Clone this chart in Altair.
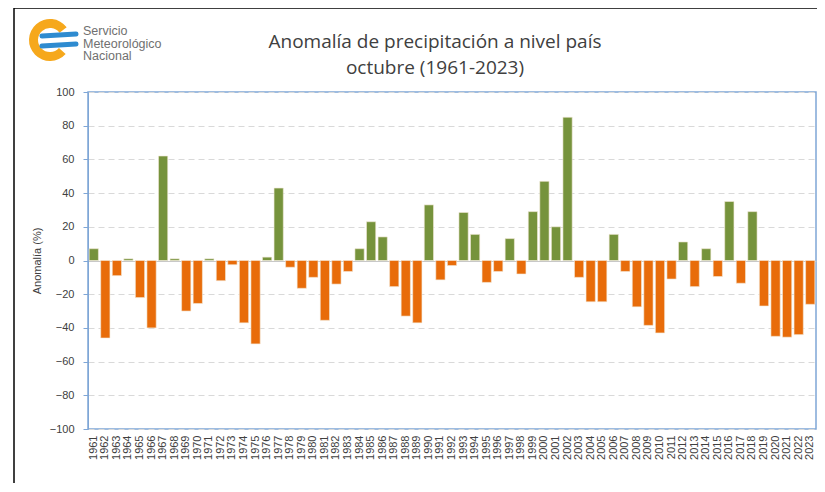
import altair as alt
import pandas as pd

years = list(range(1961, 2024))
anomalies = [
    7, -46, -9, 1, -22, -40, 62, 1, -30, -25.5,
    1, -12, -2.5, -37, -49.5, 2, 43, -4, -16.5, -10,
    -35.5, -14, -6.5, 7, 23, 14, -15.5, -33, -37, 33,
    -11.5, -3, 28.5, 15.5, -13, -6.5, 13, -8, 29, 47,
    20, 85, -10, -24.5, -24.5, 15.5, -6.5, -27.5, -38.5, -43,
    -11, 11, -15.5, 7, -9.5, 35, -13.5, 29, -27, -45,
    -45.5, -44, -26,
]
y_ticks = list(range(-100, 101, 20))
title_lines = ["Anomalía de precipitación a nivel país", "octubre (1961-2023)"]
logo_lines = ["Servicio", "Meteorológico", "Nacional"]

df = pd.DataFrame({
    "year": [str(y) for y in years],
    "anom": anomalies,
})
df["sign"] = ["pos" if v >= 0 else "neg" for v in df["anom"]]

BLUE = "#7fa6d6"
TXT = "#404040"
FONT = "Liberation Sans"

bars = alt.Chart(df).mark_bar(stroke="#f3e9d8", strokeWidth=0.6).encode(
    x=alt.X("year:O", title=None, scale=alt.Scale(paddingInner=0.2, paddingOuter=0.1),
            axis=alt.Axis(labelAngle=270, labelFontSize=11, labelFont=FONT, labelColor=TXT,
                          labelOverlap=False, ticks=False, domain=False, labelPadding=6,
                          labelBaseline="middle")),
    y=alt.Y("anom:Q", title="Anomalía (%)",
            scale=alt.Scale(domain=[-100, 100], nice=False),
            axis=alt.Axis(values=y_ticks, labelFontSize=11, labelFont=FONT, labelColor=TXT,
                          labelOverlap=False,
                          titleFontSize=11, titleFont=FONT, titleColor=TXT, titleFontWeight="normal",
                          titlePadding=7, tickSize=5, tickColor=BLUE, domainColor=BLUE,
                          labelPadding=9, grid=True,
                          gridColor={"condition": {"test": "datum.value === 0", "value": "#c8c8c8"},
                                     "value": "#d9d9d9"},
                          gridDash={"condition": {"test": "datum.value === 0", "value": []},
                                    "value": [6, 4]})),
    color=alt.Color("sign:N", scale=alt.Scale(domain=["pos", "neg"], range=["#76933c", "#e86c0a"]),
                    legend=None),
)

one = pd.DataFrame({"a": [0]})

# logo
logo_ring = alt.Chart(one).mark_arc(color="#f6a81c").encode(
    x=alt.value(-38), y=alt.value(-52),
    theta=alt.value(2.3), theta2=alt.value(7.2),
    radius=alt.value(21), radius2=alt.value(12),
)
logo_wave1 = alt.Chart(one).mark_rule(color="#2e8bd0", strokeWidth=5, strokeCap="round").encode(
    x=alt.value(-46), x2=alt.value(-12), y=alt.value(-56), y2=alt.value(-58))
logo_wave2 = alt.Chart(one).mark_rule(color="#2e8bd0", strokeWidth=5, strokeCap="round").encode(
    x=alt.value(-46), x2=alt.value(-12), y=alt.value(-46), y2=alt.value(-48))
logo_text = alt.Chart(one).mark_text(
    align="left", baseline="top", font=FONT, fontSize=12.5, lineHeight=12.5,
    color="#707070", lineBreak="\n", text="\n".join(logo_lines),
).encode(x=alt.value(-5), y=alt.value(-67))

title_text = alt.Chart(one).mark_text(
    align="center", baseline="alphabetic", font="Open Sans", fontSize=19, lineHeight=26,
    color=TXT, lineBreak="\n", text="\n".join(title_lines),
).encode(x=alt.value(347), y=alt.value(-44))

frame_left = alt.Chart(one).mark_rule(color="black", strokeWidth=1.5).encode(
    x=alt.value(-74), y=alt.value(-84), y2=alt.value(400))
frame_top = alt.Chart(one).mark_rule(color="black", strokeWidth=1.5).encode(
    x=alt.value(-74), x2=alt.value(740), y=alt.value(-84))

chart = alt.layer(
    bars, logo_ring, logo_wave1, logo_wave2, logo_text, title_text, frame_left, frame_top
).properties(
    width=728, height=337,
    padding={"left": 80, "top": 84, "right": 1, "bottom": 54},
    autosize=alt.AutoSizeParams(type="none"),
).configure_view(stroke=BLUE, strokeWidth=1.5).configure_axis(labelOverlap=False)

chart.save("out.html", embed_options={"renderer": "svg", "actions": False})
